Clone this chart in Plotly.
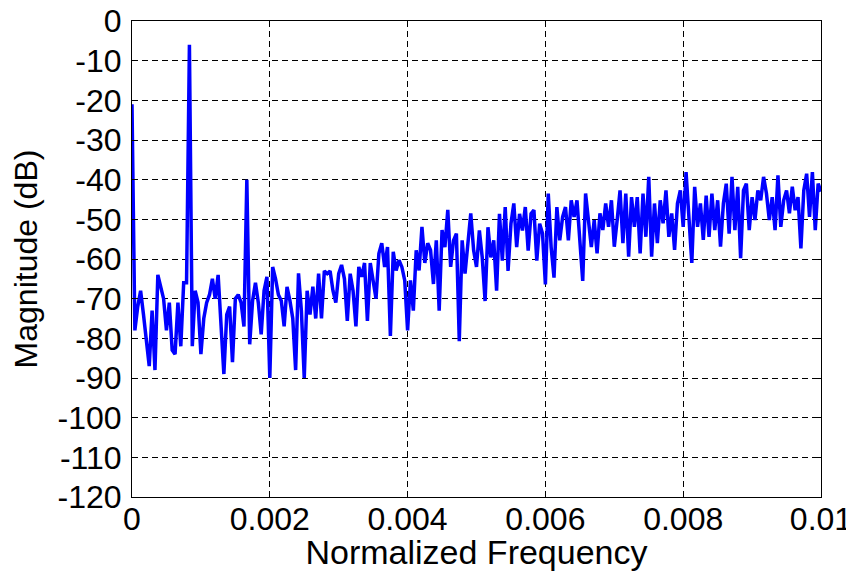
import plotly.graph_objects as go

# Frequency grid: 241 bins spanning 0..0.01 normalized frequency
freq_start = 0.0
freq_stop = 0.01
n_bins = 241

magnitude_db = [
    -21, -78, -72, -68, -74, -80, -87, -73, -88, -64, -67, -70, -78, -71, -83, -84, -71, -82, -66, -66, -6, -82, -68, -71,
    -84, -75, -71, -69, -65, -70, -64, -75, -89, -74, -72, -86, -70, -69, -71, -77, -40, -81.5, -70.5, -66, -71, -79, -68, -64.5,
    -90, -62, -65, -69, -70.5, -77, -67, -70.5, -75, -88, -63.6, -73, -90, -68, -74, -67, -75, -63.7, -75, -63, -63.7, -63, -68, -71,
    -63.7, -61.5, -65, -75.6, -63.7, -68, -77, -62, -64.5, -61, -75.6, -61, -65.4, -70, -58.6, -56, -62, -57, -79.4, -58.2, -62.9, -60.3, -62, -65.4,
    -78, -65.4, -73, -57.8, -62.9, -51.9, -61, -56, -57.8, -66.3, -55.3, -73, -52.7, -57, -47.6, -62, -55.3, -53.6, -80.7, -55.3, -63.7, -55.3, -48.5, -57.8,
    -62, -52.8, -59.6, -70.6, -52, -59.6, -55.3, -68, -48.6, -60.4, -46.9, -63, -51.1, -46, -57, -48.6, -52.8, -46.9, -57.9, -48.6, -47.7, -60.4, -51.1, -53.6,
    -66.4, -43.5, -57, -64.7, -46.9, -55.3, -49.4, -46.9, -55.3, -45.2, -49.4, -45.2, -56.2, -65.5, -43.5, -51.1, -57, -50.2, -58.6, -48.5, -52.7, -46, -51.9, -45.2,
    -56.9, -50.2, -42.7, -56, -43.5, -59.4, -44.4, -51.9, -44.4, -58.6, -43.5, -54.4, -39.3, -59.4, -46, -56, -45.2, -51, -42.7, -54.4, -48.5, -57.7, -46, -42.7,
    -51.9, -38.1, -49.4, -61, -41.8, -51.9, -46, -55.2, -44, -54.4, -43.5, -52.7, -45.2, -56.9, -46, -41, -53.6, -39.3, -52.7, -41.8, -59.8, -42.7, -41, -52.7,
    -44.4, -50.2, -42.7, -45.2, -39.3, -43.5, -50.2, -44.4, -52.7, -38.9, -51.9, -45.2, -42.7, -48.5, -41.8, -47.7, -44.4, -57.3, -42.7, -38.5, -49.4, -38.1, -52.7, -41,
    -43,
]

x_tick_vals = [0, 0.002, 0.004, 0.006, 0.008, 0.01]
x_tick_text = ["0", "0.002", "0.004", "0.006", "0.008", "0.01"]
y_tick_vals = [0, -10, -20, -30, -40, -50, -60, -70, -80, -90, -100, -110, -120]
y_tick_text = ["0", "-10", "-20", "-30", "-40", "-50", "-60", "-70", "-80", "-90", "-100", "-110", "-120"]

step = (freq_stop - freq_start) / (n_bins - 1)
freq = [freq_start + i * step for i in range(len(magnitude_db))]

FONT = "Liberation Sans, Arial, Helvetica, sans-serif"
FS = 32

fig = go.Figure()
fig.add_trace(go.Scatter(
    x=freq, y=magnitude_db, mode="lines",
    line=dict(color="#0000ff", width=3.5),
    hoverinfo="skip",
))

axis_common = dict(
    showline=True, linecolor="black", linewidth=1, mirror="ticks",
    ticks="inside", ticklen=6, tickcolor="black", tickwidth=1,
    showgrid=True, gridcolor="black", gridwidth=1, griddash="6px,4px",
    zeroline=False, automargin=False, ticklabeloverflow="allow",
    tickfont=dict(family=FONT, size=FS, color="black"),
)

fig.update_xaxes(
    range=[0, 0.01], tickvals=x_tick_vals, ticktext=x_tick_text,
    title=dict(text="Normalized Frequency", font=dict(family=FONT, size=34, color="black"), standoff=3),
    ticklabelstandoff=-6,
    **axis_common,
)
fig.update_yaxes(
    range=[-120, 0], tickvals=y_tick_vals, ticktext=y_tick_text,
    title=dict(text="Magnitude (dB)", font=dict(family=FONT, size=FS, color="black"), standoff=21),
    ticklabelstandoff=3,
    **axis_common,
)

fig.update_layout(
    width=846, height=563,
    margin=dict(l=124, r=33, t=12.5, b=74),
    paper_bgcolor="white", plot_bgcolor="white",
    showlegend=False,
)

fig.write_html("out.html")
